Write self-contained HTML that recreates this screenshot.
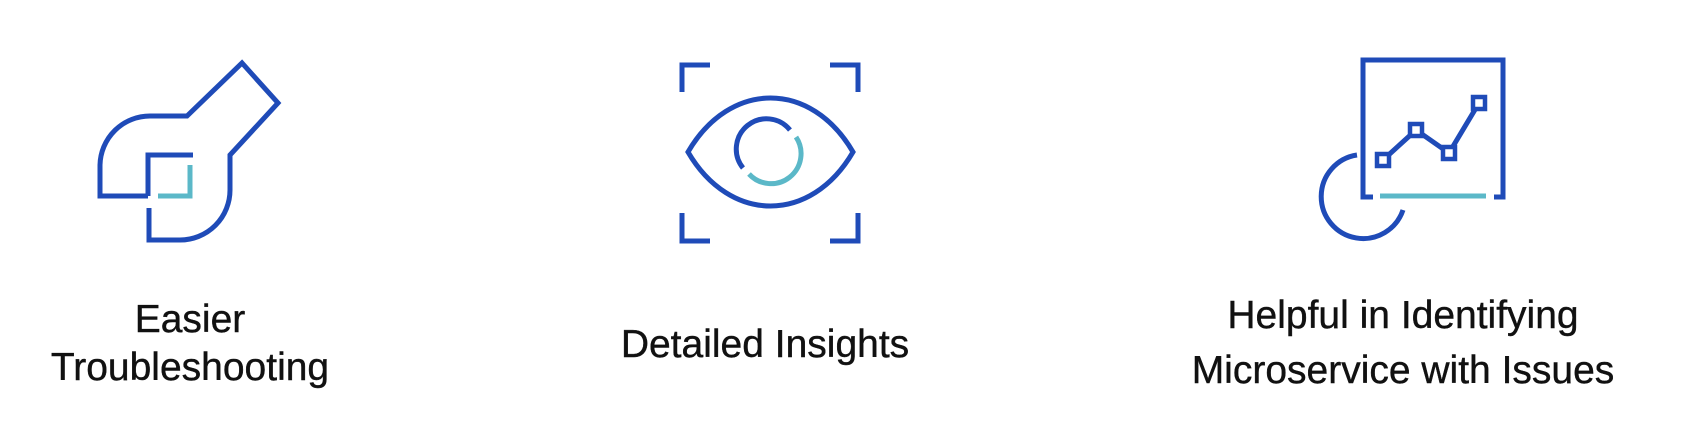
<!DOCTYPE html>
<html><head><meta charset="utf-8"><style>
html,body{margin:0;padding:0;background:#fff;}
svg{display:block}
text{font-family:"Liberation Sans",Arial,sans-serif;font-size:39px;fill:#111;stroke:#111;stroke-width:0.4;text-anchor:middle}
</style></head><body>
<svg width="1693" height="439" viewBox="0 0 1693 439" xmlns="http://www.w3.org/2000/svg">
<g fill="none" stroke="#1f4bb8" stroke-width="5">
  <!-- wrench -->
  <path d="M148,196 H100 V165 A50,50 0 0 1 150,116 H187 L242,63 L278,103 L230,155 V190 A50,50 0 0 1 180,240 H149 V208"/>
  <path d="M148,196 V155 H193"/>
  <!-- eye -->
  <path d="M682,92 V65 H710 M830,65 H858 V92 M682,213 V241 H710 M830,241 H858 V213"/>
  <path d="M688,152 C730,80 811,80 853,152 C811,224 730,224 688,152 Z"/>
  <path d="M743,168 A30,30 0 1 1 790,130"/>
  <!-- chart -->
  <path d="M1373,197 H1363 V60 H1503 V197 H1494"/>
  <path d="M1383,160 L1416,130 L1449,153 L1479,103"/>
  <path d="M1357,155 A42,42 0 1 0 1403,210"/>
</g>
<g fill="#fff" stroke="#1f4bb8" stroke-width="4.5">
  <rect x="1377" y="154" width="12" height="12"/>
  <rect x="1410" y="124" width="12" height="12"/>
  <rect x="1443" y="147" width="12" height="12"/>
  <rect x="1473" y="97" width="12" height="12"/>
</g>
<g fill="none" stroke="#5bb8c8" stroke-width="5">
  <path d="M190,165 V196 H158"/>
  <path d="M796,137 A30,30 0 0 1 749,174"/>
  <path d="M1380,196 H1486"/>
</g>
<text x="190" y="332">Easier</text>
<text x="190" y="380">Troubleshooting</text>
<text x="765" y="357">Detailed Insights</text>
<text x="1403" y="328">Helpful in Identifying</text>
<text x="1403" y="383">Microservice with Issues</text>
</svg>
</body></html>
